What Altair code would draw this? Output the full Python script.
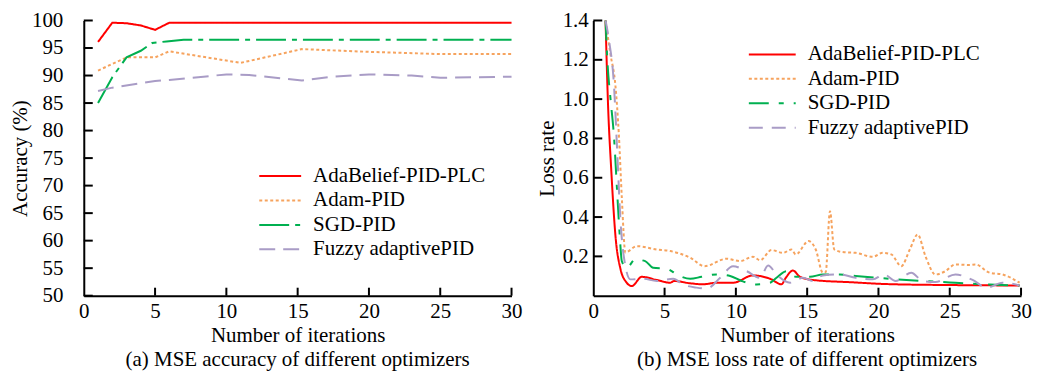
import altair as alt
import pandas as pd

SERIES = ["AdaBelief-PID-PLC", "Adam-PID", "SGD-PID", "Fuzzy adaptivePID"]
COLORS = ["#ff0000", "#f6a35e", "#00b050", "#a99cc6"]

# ---- (a) accuracy ----
acc_ada_x = [1, 2, 3, 4, 5, 6, 30]
acc_ada_y = [96.1, 99.6, 99.5, 99.1, 98.3, 99.6, 99.6]
acc_adam_x = [1, 3, 5, 6, 11, 15.3, 20, 25, 30]
acc_adam_y = [90.9, 93.3, 93.3, 94.4, 92.3, 94.8, 94.3, 93.9, 93.9]
acc_sgd_x = [1, 2, 3, 4, 4.8, 5.8, 7, 30]
acc_sgd_y = [85.0, 89.7, 93.3, 94.5, 95.9, 96.2, 96.5, 96.5]
acc_fuz_x = [1, 2, 5, 6, 8.4, 10, 11.6, 15.3, 17.5, 20, 23, 25, 30]
acc_fuz_y = [87.2, 87.8, 89.0, 89.2, 89.8, 90.2, 90.1, 89.1, 89.8, 90.2, 90.0, 89.6, 89.8]

# ---- (b) loss ----
loss_ada_x = [0.86, 1.03, 1.26, 1.56, 1.91, 2.3, 2.7, 3.4, 4.45, 5.4, 5.66, 6.8, 7.7, 8.65, 9.8,
              11.2, 12.4, 13.2, 13.5, 14.0, 14.5, 15.4, 18.2, 20.6, 25.2, 29.9]
loss_ada_y = [1.40, 0.98, 0.64, 0.30, 0.135, 0.07, 0.049, 0.096, 0.08, 0.066, 0.075, 0.063, 0.058,
              0.066, 0.066, 0.103, 0.086, 0.058, 0.091, 0.128, 0.096, 0.08, 0.068, 0.059, 0.054, 0.052]
loss_adam_x = [0.86, 1.2, 1.55, 1.8, 2.0, 2.25, 3.05, 4.45, 5.4, 6.8, 7.8, 9.35, 10.3, 11.2, 11.7,
               12.5, 13.3, 13.9, 14.2, 15.1, 15.6, 16.1, 16.3, 16.6, 16.9, 17.5, 18.4, 19.6, 20.3,
               20.9, 21.6, 22.2, 22.75, 23.3, 24.0, 24.7, 25.4, 26.4, 26.8, 27.8, 28.7, 29.9]
loss_adam_y = [1.40, 1.23, 1.07, 0.81, 0.50, 0.22, 0.252, 0.235, 0.227, 0.193, 0.15, 0.188, 0.176,
               0.198, 0.18, 0.232, 0.218, 0.235, 0.21, 0.278, 0.235, 0.117, 0.12, 0.43, 0.235,
               0.222, 0.218, 0.198, 0.218, 0.21, 0.15, 0.235, 0.311, 0.2, 0.108, 0.125, 0.159,
               0.156, 0.159, 0.117, 0.108, 0.066]
loss_sgd_x = [0.86, 1.0, 1.21, 1.45, 1.68, 1.86, 2.0, 2.35, 2.94, 3.64, 4.2, 5.15, 5.97, 6.8, 7.6,
              8.65, 9.6, 10.4, 11.45, 12.4, 12.85, 13.55, 14.2, 15.2, 16.1, 17.3, 18.4, 20.8, 23.1,
              25.4, 27.8, 29.9]
loss_sgd_y = [1.40, 1.18, 1.0, 0.81, 0.52, 0.30, 0.176, 0.142, 0.184, 0.176, 0.142, 0.137, 0.103,
              0.086, 0.096, 0.108, 0.1, 0.075, 0.057, 0.066, 0.091, 0.125, 0.096, 0.096, 0.108,
              0.108, 0.1, 0.086, 0.075, 0.066, 0.057, 0.052]
loss_fuz_x = [0.86, 1.1, 1.45, 1.68, 1.9, 2.14, 2.6, 3.5, 4.45, 5.6, 6.3, 7.25, 7.95, 8.9, 9.8,
              10.75, 11.7, 12.26, 12.85, 13.8, 14.7, 15.4, 16.1, 17.3, 18.4, 19.6, 20.4, 21.2,
              22.3, 23.1, 24.0, 25.4, 26.6, 27.6, 28.7, 29.9]
loss_fuz_y = [1.40, 1.30, 1.07, 0.73, 0.39, 0.2, 0.083, 0.086, 0.075, 0.086, 0.057, 0.041, 0.036,
              0.091, 0.15, 0.125, 0.091, 0.154, 0.108, 0.066, 0.091, 0.075, 0.103, 0.108, 0.091,
              0.083, 0.108, 0.075, 0.117, 0.075, 0.07, 0.108, 0.08, 0.041, 0.066, 0.052]

X_TICKS = [0, 5, 10, 15, 20, 25, 30]
ACC_TICKS = [50, 55, 60, 65, 70, 75, 80, 85, 90, 95, 100]
LOSS_TICKS = [0.2, 0.4, 0.6, 0.8, 1.0, 1.2, 1.4]

FONT = "Liberation Serif, Times New Roman, DejaVu Serif, serif"
FS = 21
W, H = 429, 276


def make_df(xs_list, ys_list):
    rows = []
    for name, xs, ys in zip(SERIES, xs_list, ys_list):
        for i, (x, y) in enumerate(zip(xs, ys)):
            rows.append({"series": name, "x": x, "y": y, "order": i})
    return pd.DataFrame(rows)


def panel(df, ydom, yticks, ytitle, yfmt, caption, dashes, lx, ly, sym, interp,
          ylabpad, ytitlepad):
    xsc = alt.Scale(domain=[0, 30], nice=False, zero=False)
    ysc = alt.Scale(domain=ydom, nice=False, zero=False)
    xax = alt.Axis(values=X_TICKS, title="Number of iterations", format="d",
                   labelPadding=5, titlePadding=3, labelFlush=False, labelOverlap=False)
    yax = alt.Axis(values=yticks, title=ytitle, format=yfmt,
                   labelPadding=ylabpad, titlePadding=ytitlepad, labelOverlap=False)
    leg = alt.Legend(orient="none", legendX=lx, legendY=ly, title=None,
                     symbolType="stroke", symbolSize=sym, symbolStrokeWidth=2,
                     labelFont=FONT, labelFontSize=FS, labelColor="black", labelLimit=500,
                     labelOffset=11, rowPadding=2.5, padding=0, clipHeight=21)
    lines = alt.Chart(df).mark_line(strokeWidth=2, interpolate=interp).encode(
        x=alt.X("x:Q", scale=xsc, axis=xax),
        y=alt.Y("y:Q", scale=ysc, axis=yax),
        color=alt.Color("series:N", scale=alt.Scale(domain=SERIES, range=COLORS), legend=leg),
        strokeDash=alt.StrokeDash("series:N", scale=alt.Scale(domain=SERIES, range=dashes),
                                  legend=leg),
        order="order:Q",
    )
    ytk = alt.Chart(pd.DataFrame({"y": yticks})).mark_rule(color="black", strokeWidth=2).encode(
        y=alt.Y("y:Q", scale=ysc, axis=yax), x=alt.value(0), x2=alt.value(9))
    xtk = alt.Chart(pd.DataFrame({"x": X_TICKS[1:]})).mark_rule(color="black", strokeWidth=2).encode(
        x=alt.X("x:Q", scale=xsc, axis=xax), y=alt.value(H), y2=alt.value(H - 8))
    return alt.layer(lines, ytk, xtk).properties(
        width=W, height=H,
        title=alt.TitleParams(caption, orient="bottom", anchor="middle", frame="group",
                              font=FONT, fontSize=FS, fontWeight="normal", color="black",
                              offset=4),
    )


left = panel(make_df([acc_ada_x, acc_adam_x, acc_sgd_x, acc_fuz_x],
                     [acc_ada_y, acc_adam_y, acc_sgd_y, acc_fuz_y]),
             [50, 100], ACC_TICKS, "Accuracy (%)", "d",
             "(a) MSE accuracy of different optimizers",
             [[1, 0], [3, 2.5], [30, 6, 5, 6], [16, 8]],
             175, 145.5, 1764, "linear", 21, 1)

right = panel(make_df([loss_ada_x, loss_adam_x, loss_sgd_x, loss_fuz_x],
                      [loss_ada_y, loss_adam_y, loss_sgd_y, loss_fuz_y]),
              [0, 1.4], LOSS_TICKS, "Loss rate", ".1f",
              "(b) MSE loss rate of different optimizers",
              [[1, 0], [3, 2.5], [20, 10, 5, 10], [14, 9]],
              155, 23.5, 2209, "monotone", 5, 5)

chart = alt.hconcat(left, right, spacing=13).resolve_scale(
    color="independent", strokeDash="independent", x="independent", y="independent"
).resolve_legend(color="independent", strokeDash="independent").configure_axis(
    grid=False, ticks=False, tickSize=0, domainColor="black", domainWidth=2,
    labelFont=FONT, labelFontSize=FS, labelColor="black",
    titleFont=FONT, titleFontSize=FS, titleFontWeight="normal", titleColor="black",
).configure_view(stroke=None).properties(
    padding={"left": 1, "top": 1, "right": 2, "bottom": 0}, background="white"
)

chart.save("out.html", embed_options={"renderer": "svg", "actions": False})
